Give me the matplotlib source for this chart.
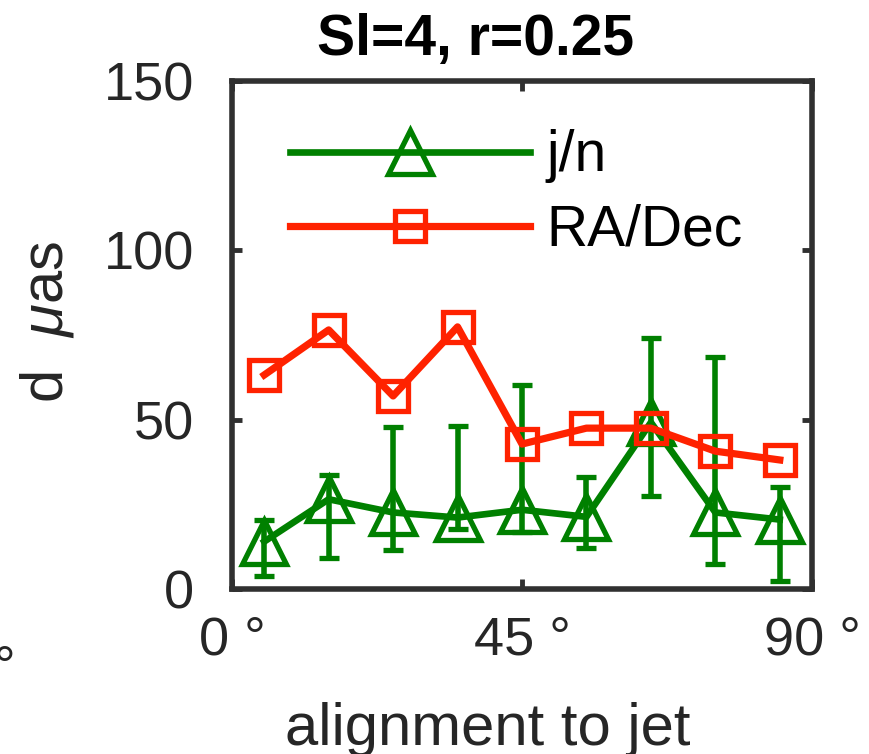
import matplotlib
matplotlib.use("Agg")
import matplotlib.pyplot as plt
from matplotlib.lines import Line2D
import numpy as np

plt.rcParams['font.family'] = ['Liberation Sans', 'DejaVu Sans']
plt.rcParams['mathtext.fontset'] = 'custom'
plt.rcParams['mathtext.it'] = 'Liberation Sans:italic'
plt.rcParams['mathtext.rm'] = 'Liberation Sans'

# alignment angle bins (degrees)
angle = [5, 15, 25, 35, 45, 55, 65, 75, 85]

# j/n offsets with lower / upper error bounds
jn = [14.0, 26.5, 22.6, 21.1, 23.4, 21.3, 49.2, 22.6, 20.5]
jn_low = [3.7, 9.3, 11.4, 17.6, 16.7, 12.0, 27.4, 7.3, 2.3]
jn_high = [20.5, 33.8, 47.7, 48.0, 60.1, 33.0, 74.0, 68.4, 30.0]

# RA/Dec offsets
radec = [63.2, 76.5, 57.0, 77.4, 42.8, 47.5, 47.5, 40.7, 38.1]

xticks = [0, 45, 90]
xticklabels = ['0 °', '45 °', '90 °']
yticks = [0, 50, 100, 150]

green = '#008000'
red = '#ff2200'
axis_col = '#303030'

fig = plt.figure(figsize=(8.70, 7.54), dpi=100)
ax = fig.add_axes([232 / 870, 1 - 589 / 754, 580 / 870, 508 / 754])

jn_style = dict(color=green, lw=4.8, marker='^', markersize=31,
                markerfacecolor='none', markeredgecolor=green,
                markeredgewidth=3.8)
radec_style = dict(color=red, lw=5.2, marker='s', markersize=21,
                   markerfacecolor='none', markeredgecolor=red,
                   markeredgewidth=3.8)

jn_arr = np.array(jn)
yerr = [jn_arr - np.array(jn_low), np.array(jn_high) - jn_arr]
ax.errorbar(angle, jn, yerr=yerr, elinewidth=4, capsize=7, capthick=4,
            ecolor=green, zorder=2, **jn_style)
ax.plot(angle, radec, zorder=3, **radec_style)

ax.set_xlim(0, 90)
ax.set_ylim(0, 150)
ax.set_xticks(xticks)
ax.set_xticklabels(xticklabels)
ax.set_yticks(yticks)

for s in ax.spines.values():
    s.set_linewidth(4)
    s.set_color(axis_col)
ax.tick_params(direction='in', length=7, width=3.5, color=axis_col,
               labelcolor='#262626', labelsize=39, top=True, right=True)
ax.tick_params(axis='x', pad=19)
ax.tick_params(axis='y', pad=27)

handles = [Line2D([], [], **jn_style), Line2D([], [], **radec_style)]
ax.legend(handles, ['j/n', 'RA/Dec'], loc='upper left', frameon=False,
          fontsize=41, handlelength=4.2, handletextpad=0.3,
          labelspacing=0.36, borderaxespad=0.3,
          bbox_to_anchor=(0.032, 0.983))

fig.text(476 / 870, 1 - 55 / 754, 'Sl=4, r=0.25', ha='center', va='baseline',
         fontsize=41, fontweight='bold', color='black')
fig.text(488 / 870, 1 - 745 / 754, 'alignment to jet', ha='center',
         va='baseline', fontsize=43, color='#262626')
fig.text(47 / 870, 1 - 322 / 754, r'd  $\mu$as', ha='center', va='center',
         rotation=90, fontsize=43, color='#262626')
fig.text(15 / 870, 1 - 684 / 754, '°', ha='right', va='baseline',
         fontsize=39, color='#262626')

fig.savefig('out.png', dpi=100)
